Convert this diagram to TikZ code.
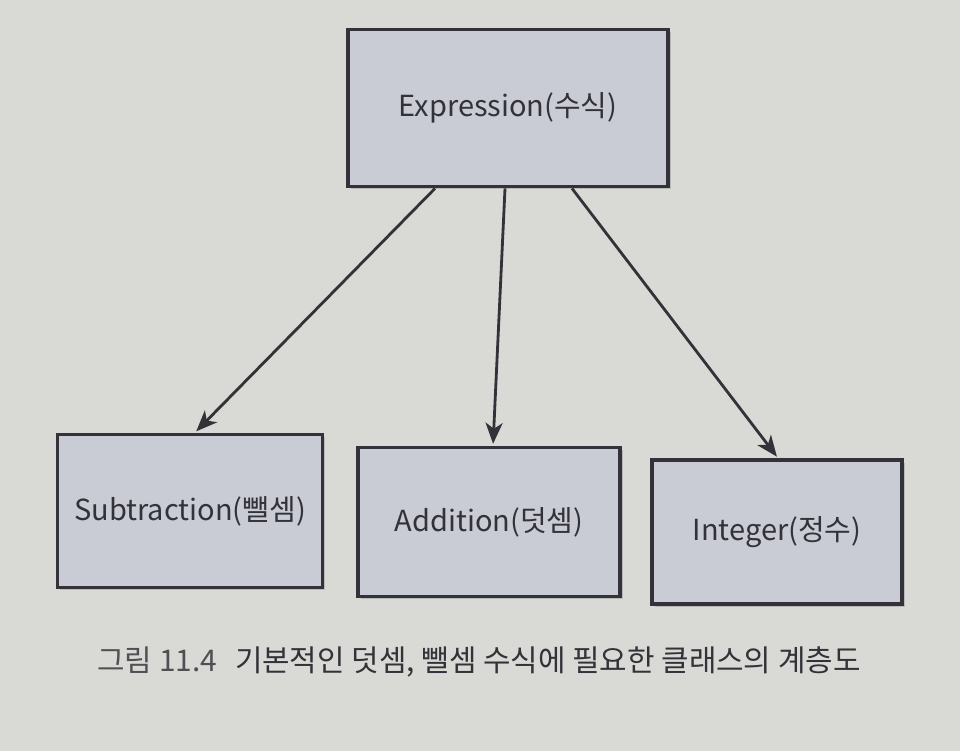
\documentclass[tikz,border=0pt]{standalone}
\usepackage{fontspec}
\setmainfont{Noto Sans CJK KR}
\usetikzlibrary{arrows.meta,shadows}
\definecolor{paper}{RGB}{217,218,214}
\definecolor{boxfill}{RGB}{202,204,213}
\definecolor{ink}{RGB}{50,50,56}
\definecolor{capgray}{RGB}{80,80,84}
\begin{document}
\begin{tikzpicture}[x=0.2mm,y=-0.2mm,thick]

		\tikzstyle{class}=[shape=rectangle,draw=ink,fill=boxfill,line width=2.2pt,text=ink,
			font=\fontsize{16.5}{19}\selectfont,
			drop shadow={shadow xshift=1.5pt,shadow yshift=-1.5pt,opacity=0.35}]
		\tikzstyle{inherit}=[draw=ink,line width=1.6pt,-{Stealth[length=4.2mm,width=3.4mm,inset=1.2mm]},shorten >=1pt]

		\fill[paper] (0,0) rectangle (960,751);
		\useasboundingbox (0,0) rectangle (960,751);

		\node[class,minimum width=6.4cm,minimum height=3.14cm] (expr) at (508,108) {Expression(수식)};
		\node[class,minimum width=5.3cm,minimum height=3.06cm] (sub) at (190,511) {Subtraction(뺄셈)};
		\node[class,minimum width=5.24cm,minimum height=2.98cm] (add) at (489,522) {Addition(덧셈)};
		\node[class,minimum width=5.0cm,minimum height=2.88cm] (int) at (777,532) {Integer(정수)};

		\path ([xshift=-1.46cm]expr.south) edge [inherit] ([xshift=0.1cm]sub.north)
					([xshift=-0.06cm]expr.south) edge [inherit] ([xshift=0.08cm]add.north)
					([xshift=1.28cm]expr.south) edge [inherit] ([xshift=0.02cm]int.north);

		\node[text=ink,font=\fontsize{17}{20}\selectfont] (caption) at (479,662)
			{\textcolor{capgray}{그림 11.4}\hspace{0.6em}기본적인 덧셈, 뺄셈 수식에 필요한 클래스의 계층도};

	\end{tikzpicture}
\end{document}
